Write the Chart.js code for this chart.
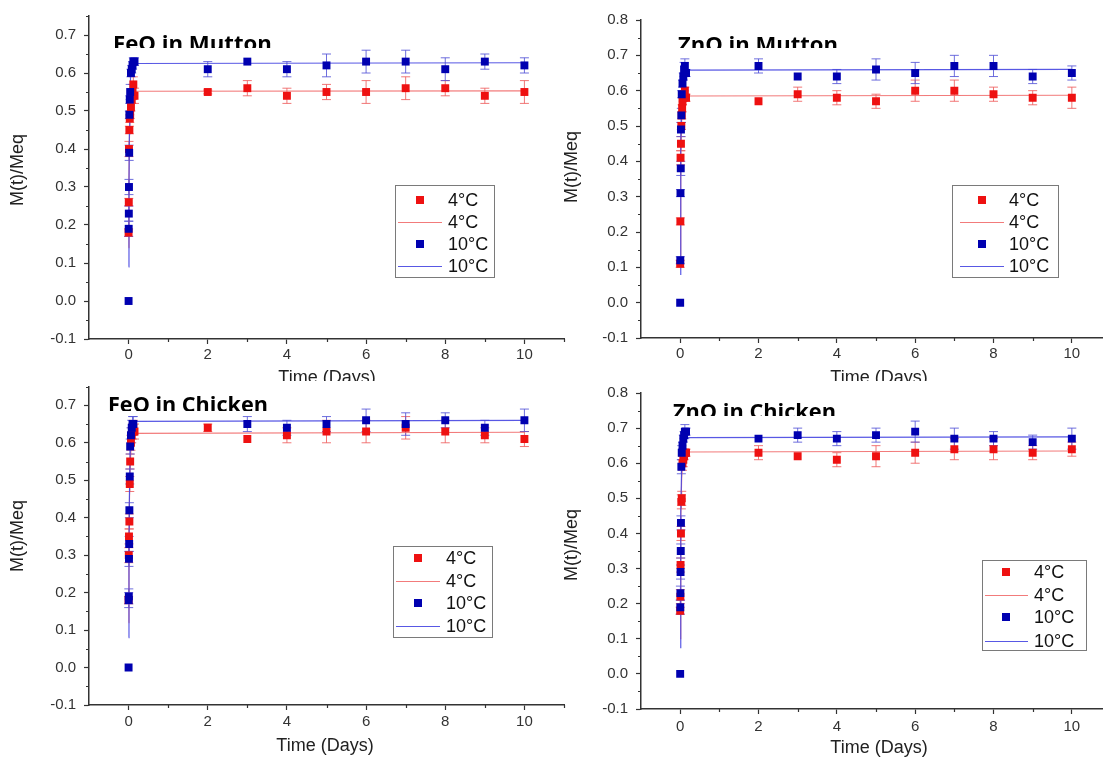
<!DOCTYPE html>
<html><head><meta charset="utf-8">
<script src="https://cdn.jsdelivr.net/npm/chart.js@4.4.1/dist/chart.umd.min.js"></script>
<style>
html,body{margin:0;padding:0;background:#fff;width:1108px;height:758px;overflow:hidden;position:relative}
canvas{position:absolute}
</style></head>
<body>
<script>
// ---------- tick labels ----------
const xTickVals = [0, 2, 4, 6, 8, 10];
const yTickValsFe = [-0.1, 0, 0.1, 0.2, 0.3, 0.4, 0.5, 0.6, 0.7];
const yTickValsZn = [-0.1, 0, 0.1, 0.2, 0.3, 0.4, 0.5, 0.6, 0.7, 0.8];
const seriesLabels = ['4°C', '4°C', '10°C', '10°C'];

// ---------- FeO in Mutton ----------
const feoMutton4x = [0,0.005,0.01,0.02,0.03,0.04,0.06,0.08,0.1,0.12,0.15,2,3,4,5,6,7,8,9,10];
const feoMutton4y = [0.18,0.26,0.40,0.45,0.48,0.49,0.51,0.53,0.55,0.57,0.54,0.55,0.56,0.54,0.55,0.55,0.56,0.56,0.54,0.55];
const feoMutton4e = [0.01,0.01,0.02,0.01,0.01,0.01,0.01,0.01,0.02,0.02,0.02,0.005,0.02,0.02,0.02,0.03,0.03,0.02,0.02,0.03];
const feoMutton10x = [0,0.003,0.006,0.01,0.015,0.02,0.03,0.04,0.06,0.08,0.1,0.12,0.15,2,3,4,5,6,7,8,9,10];
const feoMutton10y = [0,0.19,0.23,0.30,0.39,0.49,0.53,0.55,0.60,0.61,0.62,0.63,0.63,0.61,0.63,0.61,0.62,0.63,0.63,0.61,0.63,0.62];
const feoMutton10e = [0,0.02,0.02,0.02,0.02,0.01,0.01,0.02,0.01,0.01,0.01,0.01,0.01,0.02,0,0.02,0.03,0.03,0.03,0.03,0.02,0.02];
const feoMuttonFit4x = [0,0.01,0.02,0.04,0.07,0.12,10];
const feoMuttonFit4y = [0.14,0.32,0.42,0.50,0.54,0.552,0.553];
const feoMuttonFit10x = [0,0.01,0.02,0.03,0.05,0.08,0.12,10];
const feoMuttonFit10y = [0.09,0.30,0.44,0.52,0.59,0.617,0.625,0.627];

// ---------- ZnO in Mutton ----------
const znoMutton4x = [0,0.005,0.01,0.02,0.03,0.04,0.05,0.06,0.08,0.1,0.12,0.15,2,3,4,5,6,7,8,9,10];
const znoMutton4y = [0.11,0.23,0.41,0.45,0.50,0.53,0.55,0.57,0.58,0.59,0.60,0.58,0.57,0.59,0.58,0.57,0.60,0.60,0.59,0.58,0.58];
const znoMutton4e = [0.01,0.01,0.02,0.02,0.01,0.01,0.01,0.01,0.01,0.01,0.01,0.01,0,0.02,0.02,0.02,0.03,0.03,0.02,0.02,0.03];
const znoMutton10x = [0,0.003,0.008,0.015,0.02,0.03,0.04,0.06,0.08,0.1,0.12,0.15,2,3,4,5,6,7,8,9,10];
const znoMutton10y = [0,0.12,0.31,0.38,0.49,0.53,0.59,0.62,0.64,0.66,0.67,0.65,0.67,0.64,0.64,0.66,0.65,0.67,0.67,0.64,0.65];
const znoMutton10e = [0,0.01,0.01,0.02,0.02,0.02,0.01,0.01,0.01,0.02,0.02,0.01,0.02,0,0.02,0.03,0.03,0.03,0.03,0.02,0.02];
const znoMuttonFit4x = [0,0.01,0.02,0.04,0.07,0.12,10];
const znoMuttonFit4y = [0.10,0.30,0.42,0.52,0.57,0.585,0.587];
const znoMuttonFit10x = [0,0.01,0.02,0.04,0.07,0.12,10];
const znoMuttonFit10y = [0.08,0.30,0.45,0.58,0.64,0.658,0.66];

// ---------- FeO in Chicken ----------
const feoChicken4x = [0,0.005,0.01,0.02,0.03,0.04,0.06,0.08,0.1,0.12,0.15,2,3,4,5,6,7,8,9,10];
const feoChicken4y = [0.18,0.30,0.35,0.39,0.49,0.55,0.60,0.62,0.63,0.64,0.63,0.64,0.61,0.62,0.63,0.63,0.64,0.63,0.62,0.61];
const feoChicken4e = [0.01,0.02,0.02,0.02,0.02,0.02,0.02,0.02,0.02,0.02,0.02,0.01,0,0.02,0.03,0.03,0.03,0.03,0.02,0.02];
const feoChicken10x = [0,0.003,0.006,0.01,0.015,0.02,0.03,0.04,0.06,0.08,0.1,0.12,3,4,5,6,7,8,9,10];
const feoChicken10y = [0,0.18,0.19,0.29,0.33,0.42,0.51,0.59,0.62,0.64,0.65,0.65,0.65,0.64,0.65,0.66,0.65,0.66,0.64,0.66];
const feoChicken10e = [0,0.02,0.02,0.02,0.02,0.02,0.02,0.02,0.02,0.02,0.02,0.02,0.02,0.02,0.02,0.03,0.03,0.02,0.02,0.03];
const feoChickenFit4x = [0,0.01,0.02,0.04,0.07,0.12,10];
const feoChickenFit4y = [0.12,0.30,0.43,0.54,0.60,0.625,0.628];
const feoChickenFit10x = [0,0.01,0.02,0.04,0.07,0.12,10];
const feoChickenFit10y = [0.08,0.30,0.45,0.58,0.64,0.657,0.66];

// ---------- ZnO in Chicken ----------
const znoChicken4x = [0,0.005,0.01,0.02,0.03,0.04,0.06,0.08,0.1,0.12,0.15,2,3,4,5,6,7,8,9,10];
const znoChicken4y = [0.18,0.22,0.31,0.40,0.49,0.50,0.60,0.61,0.62,0.63,0.63,0.63,0.62,0.61,0.62,0.63,0.64,0.64,0.63,0.64];
const znoChicken4e = [0.01,0.02,0.02,0.02,0.02,0.02,0.02,0.02,0.01,0.01,0.01,0.02,0,0.02,0.03,0.03,0.03,0.03,0.02,0.02];
const znoChicken10x = [0,0.003,0.006,0.01,0.015,0.02,0.03,0.04,0.06,0.08,0.1,0.12,0.15,2,3,4,5,6,7,8,9,10];
const znoChicken10y = [0,0.19,0.23,0.29,0.35,0.43,0.59,0.63,0.65,0.67,0.68,0.69,0.69,0.67,0.68,0.67,0.68,0.69,0.67,0.67,0.66,0.67];
const znoChicken10e = [0,0.02,0.02,0.02,0.02,0.02,0.02,0.02,0.01,0.01,0.01,0.02,0.01,0,0.02,0.02,0.02,0.03,0.03,0.02,0.02,0.03];
const znoChickenFit4x = [0,0.01,0.02,0.04,0.07,0.12,10];
const znoChickenFit4y = [0.10,0.30,0.44,0.56,0.615,0.632,0.635];
const znoChickenFit10x = [0,0.01,0.02,0.04,0.07,0.12,10];
const znoChickenFit10y = [0.075,0.30,0.46,0.60,0.66,0.673,0.675];

// ---------- styling ----------
const RED = '#ee1111', BLUE = '#0000b0';
const RED_LINE = 'rgba(240,100,100,0.85)', BLUE_LINE = 'rgba(70,70,225,0.9)';
const RED_ERR = 'rgba(238,95,95,0.85)', BLUE_ERR = 'rgba(85,85,215,0.85)';
const FONT = '"Liberation Sans", Arial, sans-serif';
const AXIS = '#333';

const panels = [
  { title:'FeO in Mutton', L:0, T:0, W:570, H:381,
    area:{left:89,right:564,top:16,bottom:339}, xmax:11, ymax:0.75, yTicks:yTickValsFe,
    r:[feoMutton4x,feoMutton4y,feoMutton4e], rf:[feoMuttonFit4x,feoMuttonFit4y],
    b:[feoMutton10x,feoMutton10y,feoMutton10e], bf:[feoMuttonFit10x,feoMuttonFit10y],
    titleBox:{x:113,top:35,cut:48,w:159}, yTitle:[18,170], xTitle:[327,378], xPad:2,
    legend:{x:395,y:185,w:99,h:92,rows:[200,222,244,266],mx:420,l1:398,l2:442,tx:448} },
  { title:'ZnO in Mutton', L:558, T:0, W:550, H:381,
    area:{left:641,right:1108,top:20,bottom:338}, xmax:10.78, ymax:0.8, yTicks:yTickValsZn,
    r:[znoMutton4x,znoMutton4y,znoMutton4e], rf:[znoMuttonFit4x,znoMuttonFit4y],
    b:[znoMutton10x,znoMutton10y,znoMutton10e], bf:[znoMuttonFit10x,znoMuttonFit10y],
    titleBox:{x:678,top:36,cut:48,w:160}, yTitle:[572,167], xTitle:[879,378], xPad:2,
    legend:{x:952,y:185,w:106,h:92,rows:[200,222,244,266],mx:982,l1:960,l2:1004,tx:1009} },
  { title:'FeO in Chicken', L:0, T:381, W:570, H:377,
    area:{left:89,right:564,top:383,bottom:705}, xmax:11, ymax:0.75, yTicks:yTickValsFe,
    r:[feoChicken4x,feoChicken4y,feoChicken4e], rf:[feoChickenFit4x,feoChickenFit4y],
    b:[feoChicken10x,feoChicken10y,feoChicken10e], bf:[feoChickenFit10x,feoChickenFit10y],
    titleBox:{x:108,top:397,cut:411,w:160}, yTitle:[18,536], xTitle:[325,746], xPad:3,
    legend:{x:393,y:546,w:99,h:91,rows:[558,581,603,626],mx:418,l1:396,l2:440,tx:446} },
  { title:'ZnO in Chicken', L:558, T:381, W:550, H:377,
    area:{left:641,right:1108,top:393,bottom:709}, xmax:10.78, ymax:0.8, yTicks:yTickValsZn,
    r:[znoChicken4x,znoChicken4y,znoChicken4e], rf:[znoChickenFit4x,znoChickenFit4y],
    b:[znoChicken10x,znoChicken10y,znoChicken10e], bf:[znoChickenFit10x,znoChickenFit10y],
    titleBox:{x:673,top:403,cut:416,w:163}, yTitle:[572,545], xTitle:[879,748], xPad:4,
    legend:{x:982,y:560,w:104,h:90,rows:[572,595,617,641],mx:1006,l1:985,l2:1028,tx:1034} }
];

function pts(xs, ys) { return xs.map((x, i) => ({ x: x, y: ys[i] })); }

function makeDeco(p) {
  return {
    id: 'panelDeco',
    beforeDatasetsDraw(chart) {
      const ctx = chart.ctx, xs = chart.scales.x, ys = chart.scales.y;
      chart.data.datasets.forEach(ds => {
        if (!ds.errors) return;
        ctx.save();
        ctx.strokeStyle = ds.errColor; ctx.lineWidth = 1;
        ds.data.forEach((pt, i) => {
          const e = ds.errors[i];
          if (!e) return;
          const px = xs.getPixelForValue(pt.x);
          const y1 = ys.getPixelForValue(pt.y + e), y2 = ys.getPixelForValue(pt.y - e);
          ctx.beginPath();
          ctx.moveTo(px, y1); ctx.lineTo(px, y2);
          ctx.moveTo(px - 4.5, y1); ctx.lineTo(px + 4.5, y1);
          ctx.moveTo(px - 4.5, y2); ctx.lineTo(px + 4.5, y2);
          ctx.stroke();
        });
        ctx.restore();
      });
    },
    afterDraw(chart) {
      const ctx = chart.ctx, xs = chart.scales.x, ys = chart.scales.y, ca = chart.chartArea;
      ctx.save();
      // minor ticks
      ctx.strokeStyle = AXIS; ctx.lineWidth = 1.2;
      ctx.beginPath();
      for (let v = 1; v <= xs.max + 1e-6; v += 2) {
        const px = Math.round(xs.getPixelForValue(v)) + 0.5;
        ctx.moveTo(px, ca.bottom); ctx.lineTo(px, ca.bottom + 3);
      }
      for (let k = 0; ; k++) {
        const v = -0.05 + k * 0.1;
        if (v > ys.max + 1e-6) break;
        const py = Math.round(ys.getPixelForValue(v)) + 0.5;
        ctx.moveTo(ca.left - 3, py); ctx.lineTo(ca.left, py);
      }
      ctx.stroke();

      // axis titles
      ctx.fillStyle = '#222';
      ctx.font = '18px ' + FONT;
      ctx.textAlign = 'center'; ctx.textBaseline = 'middle';
      ctx.fillText('Time (Days)', p.xTitle[0] - p.L, p.xTitle[1] - p.T);
      ctx.save();
      ctx.translate(p.yTitle[0] - p.L, p.yTitle[1] - p.T);
      ctx.rotate(-Math.PI / 2);
      ctx.fillText('M(t)/Meq', 0, 0);
      ctx.restore();

      // panel title (clipped at the bottom like the reference)
      const tb = p.titleBox;
      ctx.save();
      ctx.beginPath();
      ctx.rect(0, 0, p.W, tb.cut - p.T);
      ctx.clip();
      ctx.font = 'bold 22px "Open Sans", sans-serif';
      const mw = ctx.measureText(p.title).width;
      const size = 22 * tb.w / mw;
      ctx.font = 'bold ' + size.toFixed(2) + 'px "Open Sans", sans-serif';
      ctx.textAlign = 'left'; ctx.textBaseline = 'alphabetic';
      ctx.fillStyle = '#000';
      ctx.fillText(p.title, tb.x - p.L, tb.top + 0.714 * size - p.T);
      ctx.restore();

      // legend
      const lg = p.legend;
      ctx.fillStyle = '#fff';
      ctx.fillRect(lg.x - p.L, lg.y - p.T, lg.w, lg.h);
      ctx.strokeStyle = '#7a7a7a'; ctx.lineWidth = 1;
      ctx.strokeRect(lg.x - p.L + 0.5, lg.y - p.T + 0.5, lg.w, lg.h);
      const dsets = chart.data.datasets;
      const order = [0, 1, 2, 3];
      order.forEach((di, r) => {
        const ds = dsets[di];
        const ry = lg.rows[r] - p.T;
        if (ds.showLine) {
          ctx.strokeStyle = ds.borderColor; ctx.lineWidth = 1.2;
          ctx.beginPath(); ctx.moveTo(lg.l1 - p.L, ry + 0.5); ctx.lineTo(lg.l2 - p.L, ry + 0.5); ctx.stroke();
        } else {
          ctx.fillStyle = ds.backgroundColor;
          ctx.fillRect(lg.mx - p.L - 4, ry - 4, 8, 8);
        }
        ctx.fillStyle = '#111';
        ctx.font = '18px ' + FONT;
        ctx.textAlign = 'left'; ctx.textBaseline = 'middle';
        ctx.fillText(ds.label, lg.tx - p.L, ry + 1);
      });
      ctx.restore();
    }
  };
}

function makeChart(p) {
  const cv = document.createElement('canvas');
  cv.width = p.W; cv.height = p.H;
  cv.style.left = p.L + 'px'; cv.style.top = p.T + 'px';
  cv.style.width = p.W + 'px'; cv.style.height = p.H + 'px';
  document.body.appendChild(cv);
  const yAxisW = p.area.left - p.L;
  const xAxisH = p.T + p.H - p.area.bottom;
  const noPad = s => { s.paddingTop = 0; s.paddingBottom = 0; s.paddingLeft = 0; s.paddingRight = 0; };
  new Chart(cv, {
    type: 'scatter',
    data: { datasets: [
      { label: seriesLabels[0], data: pts(p.r[0], p.r[1]), errors: p.r[2], errColor: RED_ERR,
        pointStyle: 'rect', pointRadius: 5.6, backgroundColor: RED, borderWidth: 0, showLine: false, order: 1 },
      { label: seriesLabels[1], data: pts(p.rf[0], p.rf[1]), showLine: true, pointRadius: 0,
        borderColor: RED_LINE, borderWidth: 1.1, backgroundColor: RED_LINE, tension: 0, order: 3 },
      { label: seriesLabels[2], data: pts(p.b[0], p.b[1]), errors: p.b[2], errColor: BLUE_ERR,
        pointStyle: 'rect', pointRadius: 5.6, backgroundColor: BLUE, borderWidth: 0, showLine: false, order: 0 },
      { label: seriesLabels[3], data: pts(p.bf[0], p.bf[1]), showLine: true, pointRadius: 0,
        borderColor: BLUE_LINE, borderWidth: 1.2, backgroundColor: BLUE_LINE, tension: 0, order: 2 }
    ]},
    options: {
      responsive: false, animation: false, events: [],
      layout: { padding: { left: 0, bottom: 0, top: p.area.top - p.T, right: p.L + p.W - p.area.right } },
      plugins: { legend: { display: false }, tooltip: { enabled: false } },
      scales: {
        x: {
          type: 'linear', position: 'bottom', min: -1, max: p.xmax,
          afterBuildTicks: ax => { ax.ticks = xTickVals.map(v => ({ value: v })); },
          afterFit: s => { s.height = xAxisH; noPad(s); },
          grid: { display: true, drawOnChartArea: false, drawTicks: true, tickLength: 5, tickColor: AXIS, tickWidth: 1.2 },
          border: { display: true, color: AXIS, width: 1.5 },
          ticks: { color: '#333', font: { size: 15, family: FONT }, padding: p.xPad, maxRotation: 0, autoSkip: false,
                   callback: v => String(v) },
          title: { display: false }
        },
        y: {
          type: 'linear', position: 'left', min: -0.1, max: p.ymax,
          afterBuildTicks: ax => { ax.ticks = p.yTicks.map(v => ({ value: v })); },
          afterFit: s => { s.width = yAxisW; noPad(s); },
          grid: { display: true, drawOnChartArea: false, drawTicks: true, tickLength: 5, tickColor: AXIS, tickWidth: 1.2 },
          border: { display: true, color: AXIS, width: 1.5 },
          ticks: { color: '#333', font: { size: 15, family: FONT }, padding: 8, autoSkip: false,
                   callback: v => Number(v).toFixed(1) },
          title: { display: false }
        }
      }
    },
    plugins: [makeDeco(p)]
  });
}

panels.forEach(makeChart);
</script>
</body></html>
